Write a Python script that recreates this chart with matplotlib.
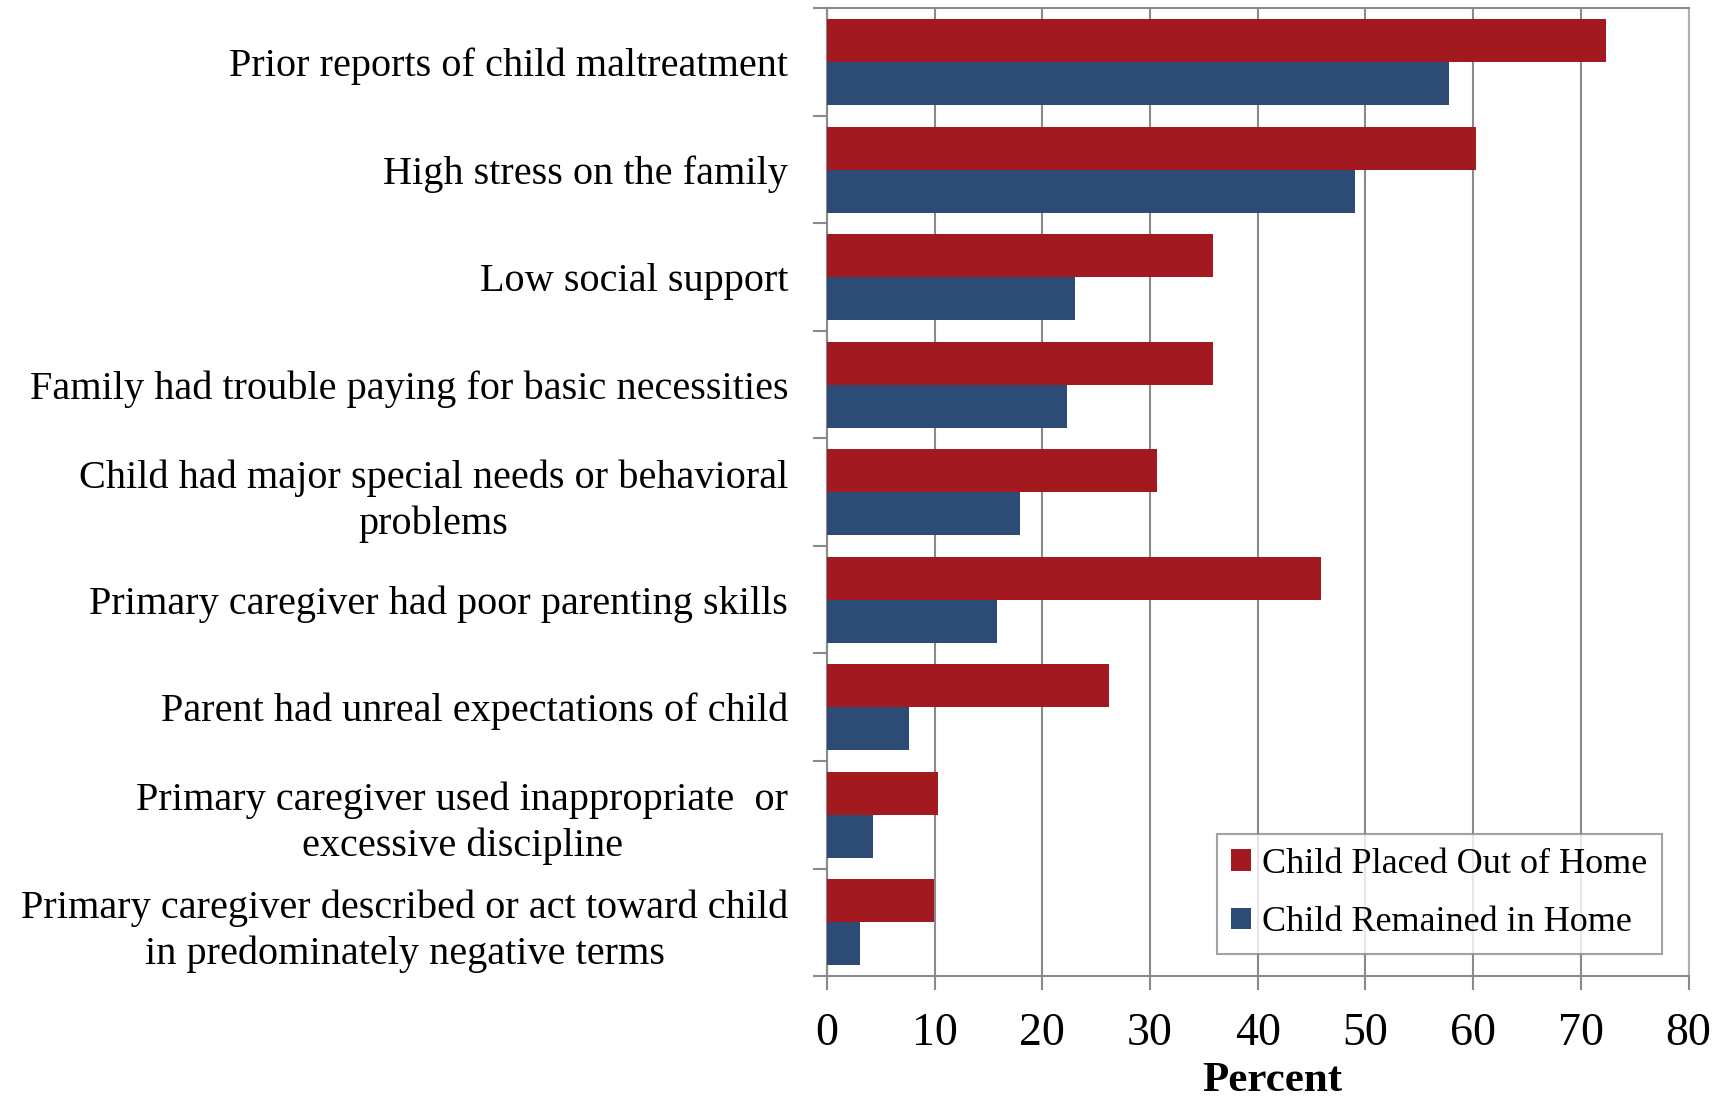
import matplotlib
matplotlib.use("Agg")
import matplotlib.pyplot as plt
import numpy as np

# Risk factors, top to bottom
factors = [
    "Prior reports of child maltreatment",
    "High stress on the family",
    "Low social support",
    "Family had trouble paying for basic necessities",
    "Child had major special needs or behavioral\nproblems",
    "Primary caregiver had poor parenting skills",
    "Parent had unreal expectations of child",
    "Primary caregiver used inappropriate  or\nexcessive discipline",
    "Primary caregiver described or act toward child\nin predominately negative terms",
]
placed_out = [72.3, 60.3, 35.8, 35.8, 30.6, 45.9, 26.2, 10.3, 9.9]
remained = [57.8, 49.0, 23.0, 22.3, 17.9, 15.8, 7.6, 4.3, 3.1]
series_names = ["Child Placed Out of Home", "Child Remained in Home"]
x_ticks = [0, 10, 20, 30, 40, 50, 60, 70, 80]

RED = "#A2191F"
BLUE = "#2C4C76"
GRID = "#8A8A8A"

plt.rcParams["font.family"] = ["Liberation Serif", "DejaVu Serif"]

fig = plt.figure(figsize=(17.23, 11.01), dpi=100)
ax = fig.add_axes([0.480, 0.1135, 0.500, 0.879])

y = np.arange(len(factors))
h = 0.4
ax.barh(y - h / 2, placed_out, height=h, color=RED, label=series_names[0], zorder=3)
ax.barh(y + h / 2, remained, height=h, color=BLUE, label=series_names[1], zorder=3)

ax.set_ylim(len(factors) - 0.5, -0.5)
ax.set_xlim(0, 80)

# category labels at centres, tick marks on group boundaries
ax.set_yticks(y)
ax.set_yticklabels(factors, fontsize=29)
ax.set_yticks(np.arange(-0.5, len(factors)), minor=True)
ax.tick_params(axis="y", which="major", length=0, pad=28)
ax.tick_params(axis="y", which="minor", length=10, width=1.5, color=GRID)
for t in ax.get_yticklabels():
    t.set_multialignment("center")
    t.set_linespacing(1.3)

ax.set_xticks(x_ticks)
ax.set_xticklabels([str(v) for v in x_ticks], fontsize=33)
ax.tick_params(axis="x", length=10, width=1.5, color=GRID, pad=16)

ax.grid(axis="x", color=GRID, linewidth=1.5, zorder=0)
for s in ax.spines.values():
    s.set_color(GRID)
    s.set_linewidth(1.5)
ax.spines["right"].set_color("#B0B0B0")

ax.set_xlabel("Percent", fontsize=31, fontweight="bold", labelpad=5)
ax.xaxis.label.set_x(0.517)

leg = ax.legend(loc="lower right", bbox_to_anchor=(0.969, 0.023), borderaxespad=0,
                fontsize=26, frameon=True, fancybox=False, handlelength=0.55,
                handleheight=0.55, handletextpad=0.3, labelspacing=0.7,
                borderpad=0.4)
leg.get_frame().set_edgecolor(GRID)
leg.get_frame().set_linewidth(1.5)

fig.savefig("out.png", dpi=100)
